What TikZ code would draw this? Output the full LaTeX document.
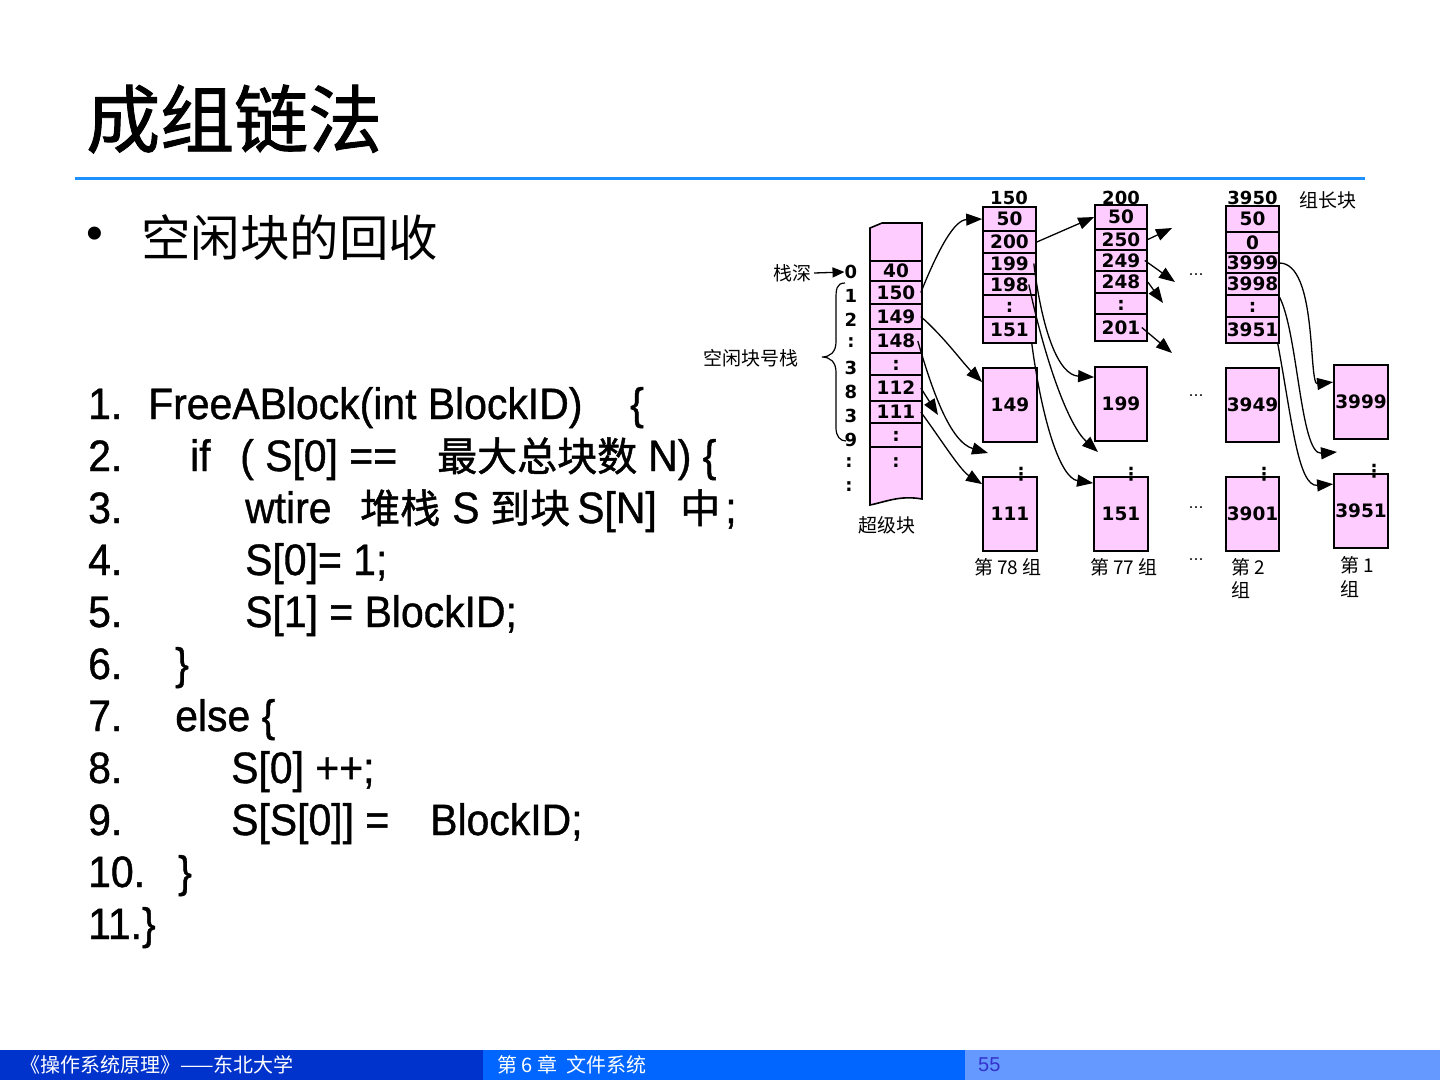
\documentclass[tikz,border=0pt]{standalone}
\usepackage{fontspec}
\setmainfont{Liberation Sans}
\newfontfamily\cjk{Noto Sans CJK SC}
\newfontfamily\cjkb[FakeBold=1.2]{Noto Sans CJK SC}
\newfontfamily\codefont[FakeStretch=0.93,FakeBold=0.9]{Liberation Sans}
\newfontfamily\dv{DejaVu Sans}
\usetikzlibrary{arrows.meta,calc}
\definecolor{pinkc}{RGB}{255,204,255}
\definecolor{rulec}{RGB}{30,144,255}
\definecolor{foota}{RGB}{0,51,204}
\definecolor{footb}{RGB}{0,102,255}
\definecolor{footc}{RGB}{102,153,255}
\definecolor{pagec}{RGB}{51,51,204}
\newcommand\mkcell[6]{\node[cell, minimum width=#3pt, minimum height={(#5-#4)*1pt}] (#1) at (#2,{(#4+#5)/2}) {#6};}
\begin{document}
\begin{tikzpicture}[x=1pt,y=-1pt,
  cell/.style={draw, line width=1.6pt, fill=pinkc, inner sep=0pt, text height=13pt, text depth=0pt,
    font=\dv\bfseries\fontsize{18.5}{20}\selectfont},
  bigblk/.style={draw, line width=1.8pt, fill=pinkc, inner sep=0pt, minimum height=74pt,
    font=\dv\bfseries\fontsize{18.5}{20}\selectfont},
  numtxt/.style={inner sep=0pt, font=\dv\bfseries\fontsize{18}{20}\selectfont},
  vdots/.style={inner sep=0pt, font=\dv\bfseries\fontsize{18}{20}\selectfont},
  lbl/.style={inner sep=0pt, font=\cjk\fontsize{19}{22}\selectfont},
  dotsx/.style={inner sep=0pt, font=\dv\fontsize{15}{18}\selectfont},
  codef/.style={inner sep=0pt, anchor=base west, font=\codefont\fontsize{44}{48}\selectfont},
  codec/.style={inner sep=0pt, anchor=base west, font=\cjkb\fontsize{40}{48}\selectfont},
  conn/.style={line width=1.3pt, -{Triangle[length=16pt,width=12pt]}},
  foottxt/.style={inner sep=0pt, anchor=west, font=\cjk\fontsize{20}{22}\selectfont}
]
\useasboundingbox (0,0) rectangle (1440,1080);
\fill[white] (0,0) rectangle (1440,1080);

% title and rule
\node[inner sep=0pt, anchor=west, font=\cjkb\fontsize{74}{80}\selectfont] (title) at (86,119) {成组链法};
\draw[rulec, line width=3pt] (75,178) -- (1365,178);

% bullet
\node[inner sep=0pt, font=\fontsize{48}{50}\selectfont] (bul) at (95,238) {•};
\node[inner sep=0pt, anchor=west, font=\cjk\fontsize{49.5}{56}\selectfont] (sub) at (141,238) {空闲块的回收};

% code
\node[codef] (n1) at (88,419) {1.};
\node[codef] (l1) at (148,419) {FreeABlock(int BlockID)};
\node[codef] (l1b) at (630,419) {\{};
\node[codef] (n2) at (88,471) {2.};
\node[codef] (l2a) at (190,471) {if};
\node[codef] (l2b) at (240,471) {( S[0] ==};
\node[codec] (l2c) at (437,471) {最大总块数};
\node[codef] (l2d) at (648,471) {N) \{};
\node[codef] (n3) at (88,523) {3.};
\node[codef] (l3a) at (245,523) {wtire};
\node[codec] (l3b) at (360,523) {堆栈};
\node[codef] (l3c) at (452,523) {S};
\node[codec] (l3d) at (490,523) {到块};
\node[codef] (l3e) at (577,523) {S[N]};
\node[codec] (l3f) at (680,523) {中};
\node[codef] (l3g) at (725,523) {;};
\node[codef] (n4) at (88,575) {4.};
\node[codef] (l4) at (245,575) {S[0]= 1;};
\node[codef] (n5) at (88,627) {5.};
\node[codef] (l5) at (245,627) {S[1] = BlockID;};
\node[codef] (n6) at (88,679) {6.};
\node[codef] (l6) at (175,679) {\}};
\node[codef] (n7) at (88,731) {7.};
\node[codef] (l7) at (175,731) {else \{};
\node[codef] (n8) at (88,783) {8.};
\node[codef] (l8) at (231,783) {S[0] ++;};
\node[codef] (n9) at (88,835) {9.};
\node[codef] (l9a) at (231,835) {S[S[0]] =};
\node[codef] (l9b) at (430,835) {BlockID;};
\node[codef] (n10) at (88,887) {10.};
\node[codef] (l10) at (178,887) {\}};
\node[codef] (n11) at (88,939) {11.\}};

% superblock
\draw[line width=1.6pt, fill=pinkc] (870,261) -- (870,228) -- (882,223) -- (922,223) -- (922,261) -- cycle;
\draw[line width=1.6pt, fill=pinkc] (870,447) -- (870,505) .. controls (885,502) and (900,495) .. (922,499) -- (922,447) -- cycle;
\node[numtxt] (sbd) at (896,463) {:};
\mkcell{sb0}{896}{52}{261}{281}{40}
\mkcell{sb1}{896}{52}{281}{304}{150}
\mkcell{sb2}{896}{52}{304}{329}{149}
\mkcell{sb3}{896}{52}{329}{353}{148}
\mkcell{sb4}{896}{52}{353}{375}{:}
\mkcell{sb5}{896}{52}{375}{401}{112}
\mkcell{sb6}{896}{52}{401}{423}{111}
\mkcell{sb7}{896}{52}{423}{447}{:}
\node[lbl] (sblbl) at (887,525) {超级块};

% stack depth numbers
\node[numtxt] (d0) at (851,272) {0};
\node[numtxt] (d1) at (851,296) {1};
\node[numtxt] (d2) at (851,320) {2};
\node[numtxt] (d3) at (851,343) {:};
\node[numtxt] (d4) at (851,368) {3};
\node[numtxt] (d5) at (851,392) {8};
\node[numtxt] (d6) at (851,416) {3};
\node[numtxt] (d7) at (851,440) {9};
\node[numtxt] (d8) at (849,463) {:};
\node[numtxt] (d9) at (849,487) {:};
\node[lbl] (zs) at (792,273) {栈深};
\node[lbl] (kx) at (751,358) {空闲块号栈};
\draw[line width=1.3pt, -{Triangle[length=12pt,width=10pt]}] (zs.east) ++(3,0) -- (d0.west);
\draw[line width=1.2pt] (845,283) .. controls (836,283) and (836,290) .. (836,300) -- (836,342)
  .. controls (836,352) and (830,357) .. (822,357) .. controls (830,357) and (836,362) .. (836,372)
  -- (836,428) .. controls (836,436) and (840,441) .. (846,441);

% group leader block 150
\node[numtxt] (h150) at (1009,198) {150};
\mkcell{ca0}{1009.5}{53}{207}{231}{50}
\mkcell{ca1}{1009.5}{53}{231}{253}{200}
\mkcell{ca2}{1009.5}{53}{253}{274}{199}
\mkcell{ca3}{1009.5}{53}{274}{295}{198}
\mkcell{ca4}{1009.5}{53}{295}{317}{:}
\mkcell{ca5}{1009.5}{53}{317}{343}{151}
% block 200
\node[numtxt] (h200) at (1121,198) {200};
\mkcell{cb0}{1121}{52}{205}{229}{50}
\mkcell{cb1}{1121}{52}{229}{250}{250}
\mkcell{cb2}{1121}{52}{250}{271}{249}
\mkcell{cb3}{1121}{52}{271}{293}{248}
\mkcell{cb4}{1121}{52}{293}{314}{:}
\mkcell{cb5}{1121}{52}{314}{341}{201}
% block 3950
\node[numtxt] (h3950) at (1252.5,198) {3950};
\node[lbl] (zzk) at (1328,200) {组长块};
\mkcell{cc0}{1252.5}{53}{206}{232}{50}
\mkcell{cc1}{1252.5}{53}{232}{253}{0}
\mkcell{cc2}{1252.5}{53}{253}{273}{3999}
\mkcell{cc3}{1252.5}{53}{273}{295}{3998}
\mkcell{cc4}{1252.5}{53}{295}{317}{:}
\mkcell{cc5}{1252.5}{53}{317}{343}{3951}

% middle and bottom blocks
\node[bigblk, minimum width=54pt] (m149) at (1010,405) {149};
\node[bigblk, minimum width=52pt] (m199) at (1121,404) {199};
\node[bigblk, minimum width=53pt] (m3949) at (1252.5,405) {3949};
\node[bigblk, minimum width=54pt] (m3999) at (1361,402) {3999};
\node[bigblk, minimum width=54pt] (b111) at (1010,514) {111};
\node[bigblk, minimum width=54pt] (b151) at (1121,514) {151};
\node[bigblk, minimum width=53pt] (b3901) at (1252.5,514) {3901};
\node[bigblk, minimum width=54pt] (b3951) at (1361,511) {3951};
\node[vdots] (v1) at (1021,474) {⋮};
\node[vdots] (v2) at (1131,474) {⋮};
\node[vdots] (v3) at (1264,474) {⋮};
\node[vdots] (v4) at (1374,471) {⋮};

% dots between groups
\node[dotsx] (e1) at (1196,275) {…};
\node[dotsx] (e2) at (1196,396) {…};
\node[dotsx] (e3) at (1196,508) {…};
\node[dotsx] (e4) at (1196,560) {…};

% group labels
\node[lbl] (g78) at (1008,567) {第 78 组};
\node[lbl] (g77) at (1124,567) {第 77 组};
\node[lbl, anchor=west] (g2a) at (1231,567) {第 2};
\node[lbl, anchor=west] (g2b) at (1231,590) {组};
\node[lbl, anchor=west] (g1a) at (1340,565) {第 1};
\node[lbl, anchor=west] (g1b) at (1340,589) {组};

% free-end coordinates
\coordinate (t3) at (988,453);
\coordinate (t4) at (938,415);
\coordinate (t8) at (1098,452);
\coordinate (t10) at (1172,228);
\coordinate (t11) at (1175,282);
\coordinate (t12) at (1163,303);
\coordinate (t13) at (1172,353);
\coordinate (t15) at (1337,452);

% connectors
\draw[conn] ([xshift=-2pt]sb1.east) .. controls (940,245) and (955,220) .. (ca0.west);
\draw[conn] ([xshift=-2pt]sb2.east) .. controls (945,338) and (962,362) .. ($(m149.north west)+(0,15)$);
\draw[conn] ([xshift=-5pt]sb3.east) .. controls (932,390) and (950,442) .. (t3);
\draw[conn] ([xshift=-2pt]sb5.east) -- (t4);
\draw[conn] ([xshift=-2pt]sb6.east) .. controls (940,438) and (960,470) .. ($(b111.north west)+(0,8)$);
\draw[conn] (ca1.east) -- (cb0.west);
\draw[conn] ([xshift=-3pt]ca2.east) .. controls (1042,330) and (1058,375) .. ($(m199.north west)+(0,11)$);
\draw[conn] ([xshift=-8pt]ca3.east) .. controls (1045,360) and (1068,425) .. (t8);
\draw[conn] ([xshift=-5pt]ca5.south east) .. controls (1042,420) and (1060,478) .. ($(b151.north west)+(0,7)$);
\draw[conn] (cb1.east) -- (t10);
\draw[conn] ([xshift=-3pt]cb2.east) -- (t11);
\draw[conn] (cb3.east) -- (t12);
\draw[conn] ([xshift=-6pt]cb5.east) -- (t13);
\draw[conn] ([xshift=-1pt]cc2.east) .. controls (1318,262) and (1308,385) .. ($(m3999.north west)+(0,18)$);
\draw[conn] ([xshift=-1pt]cc3.south east) .. controls (1298,330) and (1300,455) .. (t15);
\draw[conn] ([xshift=-2pt]cc5.south east) .. controls (1292,420) and (1298,487) .. ($(b3951.north west)+(0,11)$);

% footer
\fill[foota] (0,1050) rectangle (483,1080);
\fill[footb] (483,1050) rectangle (965,1080);
\fill[footc] (965,1050) rectangle (1440,1080);
\node[foottxt, text=white] (fa) at (20,1065) {《操作系统原理》——东北大学};
\node[foottxt, text=white] (fb) at (497,1065) {第 6 章\ \ 文件系统};
\node[foottxt, text=pagec, font=\fontsize{20}{22}\selectfont] (fc) at (978,1065) {55};
\end{tikzpicture}
\end{document}
